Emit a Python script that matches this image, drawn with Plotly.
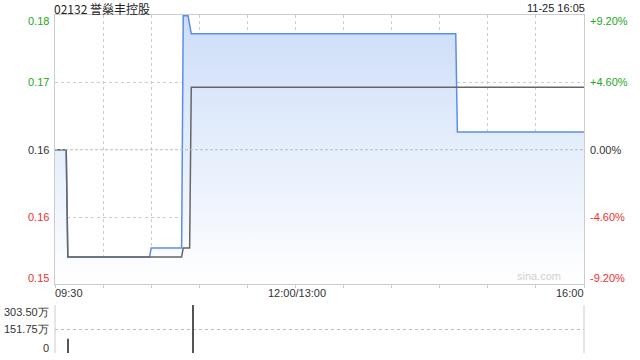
import plotly.graph_objects as go

# --- data -------------------------------------------------------------
stock_name = "02132 誉燊丰控股"
stamp = "11-25 16:05"
prev_close = 0.164

# trading minutes since 09:30 (lunch break removed, 330 = 16:00)
price_minutes = [0, 7, 8, 59, 60, 79, 80, 83, 85, 250, 251, 330]
price_values = [0.164, 0.164, 0.152, 0.152, 0.153, 0.153, 0.179, 0.179, 0.177, 0.177, 0.166, 0.166]

avg_minutes = [0, 7, 8, 79, 80, 84, 85, 330]
avg_values = [0.164, 0.164, 0.152, 0.152, 0.153, 0.153, 0.171, 0.171]

vol_minutes = [8, 86]
vol_values = [900000, 3035000]

pct_steps = [0.092, 0.046, 0.0, -0.046, -0.092]
price_labels = ["0.18", "0.17", "0.16", "0.16", "0.15"]
pct_labels = ["+9.20%", "+4.60%", "0.00%", "-4.60%", "-9.20%"]
label_colors = ["#22a822", "#22a822", "#333333", "#f03030", "#f03030"]

vol_ticks = [0, 1517500, 3035000]
vol_labels = ["0", "151.75万", "303.50万"]

time_ticks = list(range(0, 331, 30))
time_labels = [(0, "09:30", "left"), (150, "12:00/13:00", "center"), (330, "16:00", "right")]

# --- figure -----------------------------------------------------------
FONT = "Liberation Sans, Arial, sans-serif"
GRID = "#cccccc"
y_lo = prev_close * (1 - pct_steps[0])
y_hi = prev_close * (1 + pct_steps[0])
price_dom = [0.2027, 1.0]
vol_dom = [0.0, 0.142]

fig = go.Figure()

fig.add_trace(go.Scatter(
    x=price_minutes, y=price_values, mode="lines",
    line=dict(color="#5b8def", width=1.5),
    fill="tozeroy",
    fillgradient=dict(type="vertical",
                      colorscale=[[0, "rgba(255,255,255,1)"], [1, "rgb(204,221,248)"]],
                      start=y_lo, stop=y_hi),
    xaxis="x", yaxis="y", hoverinfo="skip", showlegend=False,
))
fig.add_trace(go.Scatter(
    x=avg_minutes, y=avg_values, mode="lines",
    line=dict(color="#666666", width=1.5),
    xaxis="x", yaxis="y", hoverinfo="skip", showlegend=False,
))
fig.add_trace(go.Bar(
    x=vol_minutes, y=vol_values, width=0.6,
    marker=dict(color="#555555", line=dict(width=0)),
    xaxis="x2", yaxis="y2", hoverinfo="skip", showlegend=False,
))

grid_vals = [prev_close * (1 + p) for p in pct_steps[1:-1] if p != 0]

fig.update_layout(
    width=640, height=360,
    margin=dict(l=55, r=56, t=15, b=7),
    paper_bgcolor="white", plot_bgcolor="white",
    font=dict(family=FONT, size=11, color="#333333"),
    xaxis=dict(domain=[0, 1], range=[0, 330], tickvals=time_ticks,
               ticktext=[""] * len(time_ticks),
               showgrid=True, gridcolor=GRID, griddash="dot", gridwidth=1,
               ticks="outside", ticklen=3, tickcolor=GRID,
               showline=True, linecolor=GRID, linewidth=1, mirror=True,
               zeroline=False, anchor="y", fixedrange=True),
    yaxis=dict(domain=price_dom, range=[y_lo, y_hi], tickvals=grid_vals,
               showticklabels=False, showgrid=True, gridcolor=GRID,
               griddash="dot", gridwidth=1,
               showline=True, linecolor=GRID, linewidth=1, mirror=True,
               zeroline=False, anchor="x", fixedrange=True),
    xaxis2=dict(domain=[0, 1], range=[0, 330], showticklabels=False,
                showgrid=False, zeroline=False, showline=False,
                anchor="y2", fixedrange=True),
    yaxis2=dict(domain=vol_dom, range=[0, vol_ticks[-1]], tickvals=vol_ticks,
                showticklabels=False, showgrid=True, gridcolor="#bbbbbb",
                griddash="dot", gridwidth=1, zeroline=False, showline=False,
                anchor="x2", fixedrange=True),
)

shapes = []
# dashed previous-close line
shapes.append(dict(type="line", xref="x", yref="y", x0=0, x1=330,
                   y0=prev_close, y1=prev_close,
                   line=dict(color="#bbbbbb", width=1, dash="3px,2px")))
# volume panel side borders
for xv in (0, 1):
    shapes.append(dict(type="line", xref="paper", yref="paper", x0=xv, x1=xv,
                       y0=vol_dom[0], y1=vol_dom[1],
                       line=dict(color=GRID, width=1)))
fig.update_layout(shapes=shapes)

ann = []
n = len(pct_steps)
for i, p in enumerate(pct_steps):
    yv = prev_close * (1 + p)
    shift = -5.5 if i == 0 else (6 if i == n - 1 else 0)
    ann.append(dict(xref="paper", yref="y", x=0, y=yv, xanchor="right",
                    yanchor="middle", xshift=-4, yshift=shift, showarrow=False,
                    text=price_labels[i], font=dict(color=label_colors[i], size=11)))
    ann.append(dict(xref="paper", yref="y", x=1, y=yv, xanchor="left",
                    yanchor="middle", xshift=4, yshift=shift, showarrow=False,
                    text=pct_labels[i], font=dict(color=label_colors[i], size=11)))

for i, v in enumerate(vol_ticks):
    shift = 5 if i == 0 else (-7 if i == len(vol_ticks) - 1 else 0)
    ann.append(dict(xref="paper", yref="y2", x=0, y=v, xanchor="right",
                    yanchor="middle", xshift=-4, yshift=shift, showarrow=False,
                    text=vol_labels[i], font=dict(color="#333333", size=11)))

for t, txt, anchor in time_labels:
    ann.append(dict(xref="x", yref="paper", x=t, y=0.1775, xanchor=anchor,
                    yanchor="middle", xshift=-2 if anchor == "left" else 2,
                    showarrow=False, text=txt,
                    font=dict(color="#333333", size=11)))

ann.append(dict(xref="paper", yref="paper", x=0, y=1, xanchor="left",
                yanchor="middle", xshift=-2, yshift=7, showarrow=False,
                text=stock_name, borderpad=0,
                font=dict(family="Noto Sans CJK SC, " + FONT, size=12, color="#222222")))
ann.append(dict(xref="paper", yref="paper", x=1, y=1, xanchor="right",
                yanchor="middle", xshift=2, yshift=7, showarrow=False,
                text=stamp, borderpad=0, font=dict(size=11, color="#222222")))
ann.append(dict(xref="paper", yref="y", x=0.96, y=y_lo, xanchor="right",
                yanchor="bottom", showarrow=False, text="sina.com",
                font=dict(size=11, color="#d0d0d0")))

fig.update_layout(annotations=ann)

fig.write_html("out.html")
